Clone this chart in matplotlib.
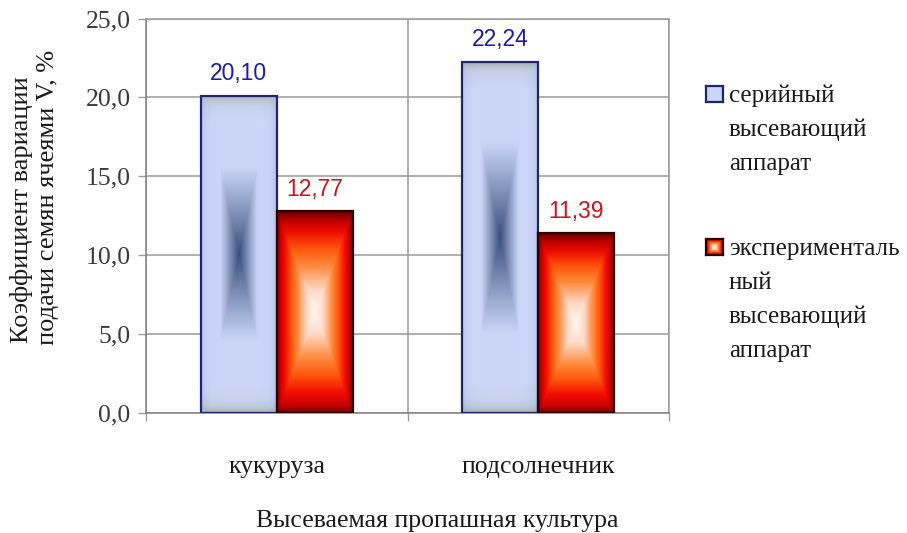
import numpy as np
import matplotlib
matplotlib.use("Agg")
import matplotlib.pyplot as plt
from matplotlib.colors import LinearSegmentedColormap

# --- data -------------------------------------------------------------
categories = ["кукуруза", "подсолнечник"]
serial_values = [20.10, 22.24]
experimental_values = [12.77, 11.39]
series_names = ["серийный\nвысевающий\nаппарат",
                "эксперименталь\nный\nвысевающий\nаппарат"]
y_ticks = [0, 5, 10, 15, 20, 25]
y_label_lines = ["Коэффициент вариации", "подачи семян ячеями V, %"]
x_label = "Высеваемая пропашная культура"

SERIF = ["Liberation Serif", "DejaVu Serif"]
SANS = ["Liberation Sans", "DejaVu Sans"]

W, H = 907, 533
fig = plt.figure(figsize=(W / 100, H / 100), dpi=100)
fig.patch.set_facecolor("white")


def fx(px):
    return px / W


def fy(py):
    return 1 - py / H


ax = fig.add_axes([fx(146), fy(413), fx(669) - fx(146), fy(18.5) - fy(413)])
ax.set_facecolor("white")

x = np.arange(len(categories))
bw = 0.29

bars_s = ax.bar(x - bw, serial_values, width=bw, align="edge",
                facecolor="none", edgecolor="#24246a", linewidth=1.6, zorder=4)
bars_e = ax.bar(x, experimental_values, width=bw, align="edge",
                facecolor="none", edgecolor="#2a0000", linewidth=1.6, zorder=4)

ax.set_xlim(-0.5, 1.5)
ax.set_ylim(0, 25)

# pixel scale for the edge bands of the gradients
px_per_unit = (413 - 18.5) / 25.0


def serial_gradient(height, core=True):
    ny, nx = 300, 80
    u = np.linspace(-1, 1, nx)[None, :]
    v = np.linspace(1, -1, ny)[:, None]
    base = np.array([0.80, 0.84, 0.97])
    dark = np.array([0.19, 0.28, 0.46])
    band = np.array([0.64, 0.70, 0.66])
    img = np.ones((ny, nx, 3)) * base
    if core:
        # rectangular centre gradient, tall and narrow -> hourglass look
        p = np.abs(u) / 0.50
        q = np.abs(v) / 0.55
        r = np.maximum(p * np.ones_like(q), q * np.ones_like(p))
        inten = np.clip(1 - r, 0, 1) ** 1.05 * 0.95
        img = img * (1 - inten[..., None]) + dark * inten[..., None]
    # greyish bands fading in from the top and bottom edges
    hpx = height * px_per_unit
    d = (1 - np.abs(v)) * hpx / 2
    e = np.exp(-d / 6.0)
    img = img * (1 - e[..., None]) + band * e[..., None]
    # slight shading near the side edges
    s = np.exp(-(1 - np.abs(u)) * 38 / 4.0) * 0.35
    img = img * (1 - s[..., None]) + np.array([0.55, 0.6, 0.8]) * s[..., None]
    return np.clip(img, 0, 1)


red_cmap = LinearSegmentedColormap.from_list("rect_red", [
    (0.00, (1.00, 0.97, 0.95)),
    (0.22, (1.00, 0.85, 0.78)),
    (0.45, (1.00, 0.55, 0.25)),
    (0.62, (1.00, 0.35, 0.05)),
    (0.80, (0.95, 0.05, 0.00)),
    (0.92, (0.80, 0.00, 0.00)),
    (1.00, (0.45, 0.00, 0.00)),
])


def experimental_gradient(height):
    ny, nx = 300, 80
    u = np.linspace(-1, 1, nx)[None, :]
    v = np.linspace(1, -1, ny)[:, None]
    r = np.maximum(np.abs(u) * np.ones_like(v), np.abs(v) * np.ones_like(u))
    img = red_cmap(r)[..., :3]
    # darker maroon band along the top
    hpx = height * px_per_unit
    dtop = (1 - v) * hpx / 2 * np.ones_like(u)
    e = np.exp(-dtop / 7.0) * 0.6
    img = img * (1 - e[..., None]) + np.array([0.4, 0.0, 0.0]) * e[..., None]
    return np.clip(img, 0, 1)


for b in bars_s:
    x0, w, h = b.get_x(), b.get_width(), b.get_height()
    ax.imshow(serial_gradient(h), extent=(x0, x0 + w, 0, h), aspect="auto",
              interpolation="bilinear", zorder=3)
for b in bars_e:
    x0, w, h = b.get_x(), b.get_width(), b.get_height()
    ax.imshow(experimental_gradient(h), extent=(x0, x0 + w, 0, h), aspect="auto",
              interpolation="bilinear", zorder=3)

ax.set_xlim(-0.5, 1.5)
ax.set_ylim(0, 25)

# value labels
for bars, vals, col in ((bars_s, serial_values, "#1c1ca6"),
                        (bars_e, experimental_values, "#cc1414")):
    for b, val in zip(bars, vals):
        ax.annotate(f"{val:.2f}".replace(".", ","),
                    (b.get_x() + b.get_width() / 2, b.get_height()),
                    xytext=(0, 16), textcoords="offset points", ha="center", va="center",
                    fontsize=16.5, color=col, family=SANS, zorder=6)

# axes, ticks and grid
grid_col = "#9a9a9a"
ax.set_yticks(y_ticks)
ax.set_yticklabels([f"{t:.1f}".replace(".", ",") for t in y_ticks],
                   family=SERIF, fontsize=18.5, color="#3a3a3a")
ax.tick_params(axis="y", direction="out", length=6, width=1, color=grid_col, pad=5)
ax.set_xticks(x)
ax.set_xticklabels(categories, family=SERIF, fontsize=18.5, color="#1a1a1a")
ax.tick_params(axis="x", which="major", length=0, pad=31)
ax.set_xticks([-0.5, 0.5, 1.5], minor=True)
ax.tick_params(axis="x", which="minor", direction="out", length=6, width=1, color=grid_col)

ax.yaxis.grid(True, color=grid_col, linewidth=1.1, zorder=1)
ax.xaxis.grid(True, which="minor", color=grid_col, linewidth=1.1, zorder=1)
ax.set_axisbelow(True)
for side, sp in ax.spines.items():
    sp.set_color(grid_col)
    sp.set_linewidth(1.1)
    sp.set_zorder(2)
ax.spines["left"].set_color("#808080")
ax.spines["bottom"].set_color("#808080")

# axis titles
for (cx, cy), line in zip(((22, 210), (48, 197)), y_label_lines):
    fig.text(fx(cx), fy(cy), line, rotation=90, ha="center", va="center",
             family=SERIF, fontsize=19, color="#1a1a1a")
fig.text(fx(437), fy(521), x_label, ha="center", va="center",
         family=SERIF, fontsize=18.5, color="#1a1a1a")

# legend
legend_items = [
    (series_names[0], 94, serial_gradient(10, core=False), "#24246a"),
    (series_names[1], 247, experimental_gradient(10), "#2a0000"),
]
for label, y_first, img, edge in legend_items:
    mk = fig.add_axes([fx(706), fy(y_first + 8), fx(17), 16 / H])
    mk.imshow(img, extent=(0, 1, 0, 1), aspect="auto", interpolation="bilinear")
    mk.set_xticks([])
    mk.set_yticks([])
    for sp in mk.spines.values():
        sp.set_color(edge)
        sp.set_linewidth(1.6)
    for i, line in enumerate(label.split("\n")):
        fig.text(fx(729), fy(y_first + 2 + i * 34), line, ha="left", va="center",
                 family=SERIF, fontsize=18, color="#1a1a1a")

fig.savefig("out.png", dpi=100, facecolor="white")
